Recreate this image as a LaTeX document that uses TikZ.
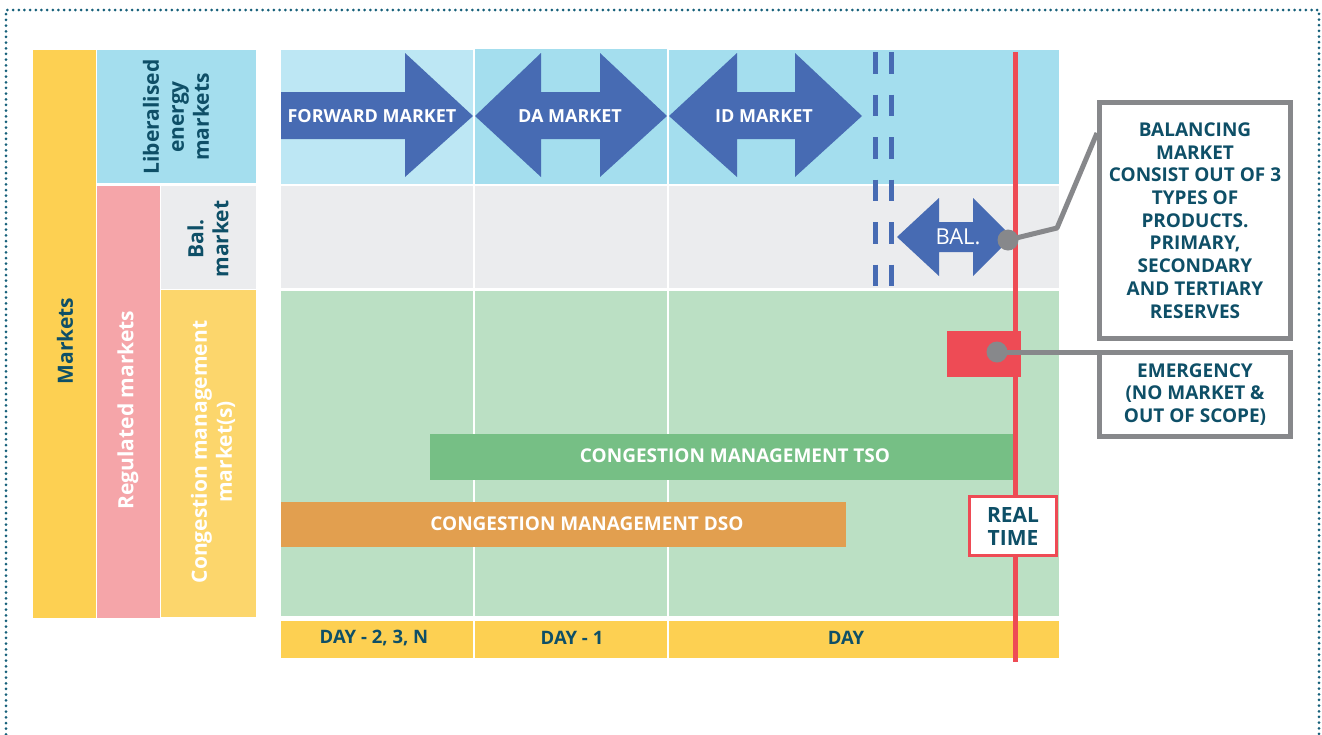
\documentclass[tikz,border=0pt]{standalone}
\usepackage{fontspec}
\setmainfont{Open Sans}
\usetikzlibrary{calc}
\definecolor{mYellow}{HTML}{FDD052}
\definecolor{cmYellow}{HTML}{FCD66C}
\definecolor{lBlue}{HTML}{BDE7F4}
\definecolor{mBlue}{HTML}{A4DEEE}
\definecolor{mPink}{HTML}{F5A5A9}
\definecolor{mGray}{HTML}{EBECEE}
\definecolor{mGreen}{HTML}{BBE0C4}
\definecolor{arrBlue}{HTML}{476BB3}
\definecolor{rtRed}{HTML}{EE4B55}
\definecolor{tsoGreen}{HTML}{76BF85}
\definecolor{dsoOrange}{HTML}{E29F4F}
\definecolor{tealTxt}{HTML}{0E4F67}
\definecolor{lineGray}{HTML}{87888B}
\definecolor{frameTeal}{HTML}{16607A}
\tikzset{
  sidelbl/.style={rotate=90, align=center, inner sep=0pt, font=\fontsize{21}{25}\selectfont\bfseries},
  arrlbl/.style={text=white, inner sep=0pt, font=\fontsize{18}{20}\selectfont\bfseries},
  daylbl/.style={text=tealTxt, inner sep=0pt, font=\fontsize{18.5}{20}\selectfont\bfseries},
  barlbl/.style={text=white, inner sep=0pt, font=\fontsize{19}{22}\selectfont\bfseries},
  callout/.style={draw=lineGray, line width=5pt, fill=white, text=tealTxt, align=center, inner sep=0pt, font=\fontsize{19}{22.7}\selectfont\bfseries},
  grayline/.style={draw=lineGray, line width=5pt},
  graydot/.style={fill=lineGray},
  dashline/.style={draw=arrBlue, line width=5pt, dash pattern=on 21.5pt off 21pt},
}
\begin{document}
\begin{tikzpicture}[x=1pt,y=-1pt]
\useasboundingbox (0,0) rectangle (1322,734);
% dotted frame
\draw[frameTeal, line width=3pt, line cap=round, dash pattern=on 0pt off 5.67pt] (6,740) -- (6,10) -- (1319,10) -- (1319,740);
% left column
\fill[mYellow] (33,50) rectangle (96,618);
\fill[mBlue] (97,50) rectangle (256,183);
\fill[mPink] (97,186) rectangle (160,618);
\fill[mGray] (161,186) rectangle (256,289);
\fill[cmYellow] (161,290) rectangle (256,617);
\node[sidelbl, text=tealTxt] (lblMarkets) at (65,341) {Markets};
\node[sidelbl, text=tealTxt] (lblLib) at (176,117) {Liberalised\\energy\\markets};
\node[sidelbl, text=white] (lblReg) at (128,410) {Regulated markets};
\node[sidelbl, text=tealTxt] (lblBal) at (208,239) {Bal.\\market};
\node[sidelbl, text=white] (lblCM) at (213,452) {Congestion management\\market(s)};
% grid
\fill[lBlue] (281,50) rectangle (473,184);
\fill[mBlue] (475,49) rectangle (667,184);
\fill[mBlue] (669,50) rectangle (1059,184);
\fill[mGray] (281,186) rectangle (473,288);
\fill[mGray] (475,186) rectangle (667,288);
\fill[mGray] (669,186) rectangle (1059,288);
\fill[mGreen] (281,291) rectangle (473,616);
\fill[mGreen] (475,291) rectangle (667,616);
\fill[mGreen] (669,291) rectangle (1059,616);
\fill[mYellow] (281,621) rectangle (473,658);
\fill[mYellow] (475,621) rectangle (667,658);
\fill[mYellow] (669,621) rectangle (1059,658);
\node[daylbl] (day1) at (374,638) {DAY - 2, 3, N};
\node[daylbl] (day2) at (572,638) {DAY - 1};
\node[daylbl] (day3) at (846,638) {DAY};
% dashed double line
\draw[dashline] (875,52) -- (875,288);
\draw[dashline] (891.5,52) -- (891.5,288);
% arrows
\fill[arrBlue] (281,92) -- (405,92) -- (405,53) -- (473,116) -- (405,177) -- (405,139) -- (281,139) -- cycle;
\fill[arrBlue] (475,116) -- (541,53) -- (541,92) -- (600,92) -- (600,53) -- (667,116) -- (600,177) -- (600,139) -- (541,139) -- (541,177) -- cycle;
\fill[arrBlue] (669,116) -- (737,53) -- (737,92) -- (795,92) -- (795,53) -- (862,116) -- (795,177) -- (795,139) -- (737,139) -- (737,177) -- cycle;
\fill[arrBlue] (897,237) -- (939,198) -- (939,222) -- (973,222) -- (973,198) -- (1012,237) -- (973,276) -- (973,252) -- (939,252) -- (939,276) -- cycle;
\node[arrlbl] (fwd) at (372,116) {FORWARD MARKET};
\node[arrlbl] (da) at (570,116) {DA MARKET};
\node[arrlbl] (id) at (764,116) {ID MARKET};
\node[text=white, inner sep=0pt, font=\fontsize{22}{24}\selectfont] (bal) at (958,237) {BAL.};
% bars
\fill[tsoGreen] (430,434) rectangle (1013,480);
\node[barlbl] (tso) at (735,456) {CONGESTION MANAGEMENT TSO};
\fill[dsoOrange] (281,502) rectangle (846,547);
\node[barlbl] (dso) at (587,524) {CONGESTION MANAGEMENT DSO};
% real time line
\draw[rtRed, line width=5pt] (1015.5,52) -- (1015.5,662);
\fill[rtRed] (947,331) rectangle (1021,377);
\node[draw=rtRed, line width=3pt, fill=white, minimum width=87pt, minimum height=59pt, inner sep=0pt, align=center, text=tealTxt, font=\fontsize{21}{23}\selectfont\bfseries] (rt) at (1013,526) {REAL\\TIME};
% callouts
\node[callout, minimum width=191pt, minimum height=236pt] (balbox) at (1195,220.5) {BALANCING\\MARKET\\CONSIST OUT OF 3\\TYPES OF\\PRODUCTS.\\PRIMARY,\\SECONDARY\\AND TERTIARY\\RESERVES};
\node[callout, minimum width=191pt, minimum height=84pt] (emerbox) at (1195,394.5) {EMERGENCY\\(NO MARKET \&\\OUT OF SCOPE)};
\coordinate (baldot) at (1008,240);
\coordinate (emdot) at (997,352);
\draw[grayline, line join=round] (baldot) -- (1057,228) -- ($(balbox.north west)+(0,33)$);
\draw[grayline] (emdot) -- (emerbox.north west |- emdot);
\fill[graydot] (baldot) circle (10.5pt);
\fill[graydot] (emdot) circle (10.5pt);
\end{tikzpicture}
\end{document}
